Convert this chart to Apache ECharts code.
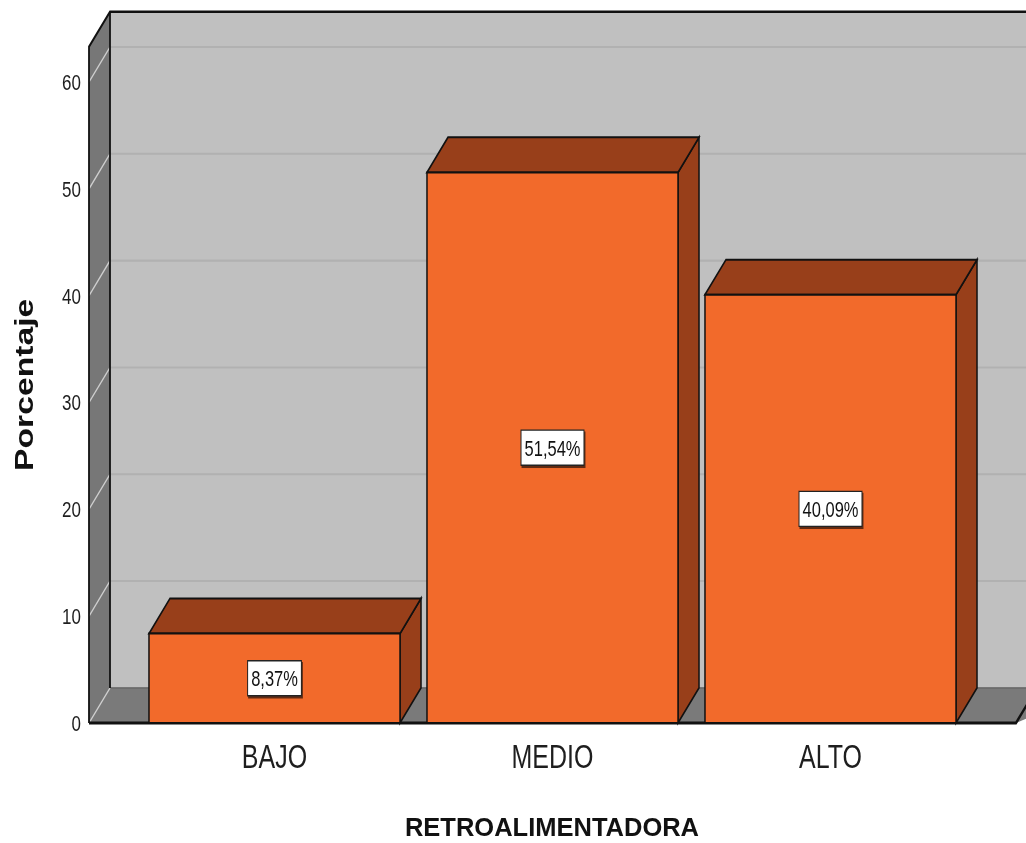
<!DOCTYPE html>
<html lang="es">
<head>
<meta charset="UTF-8">
<title>Retroalimentadora</title>
<script src="https://cdn.jsdelivr.net/npm/echarts@6/dist/echarts.min.js"></script>
<style>
  html, body { margin: 0; background: #fff; width: 1026px; height: 843px; overflow: hidden; }
  /* the source picture is stretched vertically: draw squashed, scale back up */
  #chart { width: 1026px; height: 625px; transform: scaleY(1.3488); transform-origin: 0 0; }
</style>
</head>
<body>
<div id="chart"></div>
<script>
  var categories = ['BAJO', 'MEDIO', 'ALTO'];
  var percentages = [8.37, 51.54, 40.09];
  var yTicks = [0, 10, 20, 30, 40, 50, 60];

  var STRETCH = 1.3488;
  var DX = 21, DY = -26;   // depth of the 3D box
  var PAD = 46.5;          // floor beyond the outer bars
  var EDGE = '#111';
  var FONT = "'Liberation Sans', Arial, sans-serif";

  function fmt(v) { return v.toFixed(2).replace('.', ',') + '%'; }

  var chart = echarts.init(document.getElementById('chart'), null, { renderer: 'svg' });

  // back wall, left wall and floor
  function renderRoom(params, api) {
    var cs = params.coordSys;
    var L = cs.x - PAD, R = cs.x + cs.width + PAD;
    var T = cs.y, B = cs.y + cs.height;
    var farR = R + DX + 60;
    var kids = [];
    kids.push({ type: 'rect', shape: { x: L + DX, y: T + DY, width: farR - L - DX, height: B - T },
      style: { fill: '#c0c0c0' } });
    yTicks.forEach(function (t) {
      if (t === 0) return;
      var y = api.coord([0, t])[1];
      kids.push({ type: 'line', shape: { x1: L + DX, y1: y + DY, x2: farR, y2: y + DY },
        style: { stroke: '#b1b1b1', lineWidth: 1.5 } });
    });
    kids.push({ type: 'polygon', shape: { points: [[L, T], [L + DX, T + DY], [L + DX, B + DY], [L, B]] },
      style: { fill: '#777777' } });
    kids.push({ type: 'polygon', shape: { points: [[L, B], [L + DX, B + DY], [farR, B + DY], [R, B]] },
      style: { fill: '#7a7a7a' } });
    kids.push({ type: 'line', shape: { x1: L + DX, y1: B + DY, x2: farR, y2: B + DY },
      style: { stroke: '#5e5e5e', lineWidth: 1 } });
    yTicks.forEach(function (t) {
      var y = api.coord([0, t])[1];
      kids.push({ type: 'line', shape: { x1: L, y1: y, x2: L + DX, y2: y + DY },
        style: { stroke: '#cfcfcf', lineWidth: 1.2 } });
    });
    kids.push({ type: 'polyline', shape: { points: [[L, B], [L, T], [L + DX, T + DY], [farR, T + DY]] },
      style: { stroke: EDGE, lineWidth: 1.8, fill: null } });
    kids.push({ type: 'line', shape: { x1: L + DX, y1: T + DY, x2: L + DX, y2: B + DY },
      style: { stroke: EDGE, lineWidth: 1.8 } });
    kids.push({ type: 'polyline', shape: { points: [[L, B], [R, B], [R + DX, B + DY]] },
      style: { stroke: EDGE, lineWidth: 2.2, fill: null } });
    return { type: 'group', children: kids };
  }

  function renderBar(params, api) {
    var idx = api.value(0);
    var top = api.coord([idx, api.value(1)]);
    var base = api.coord([idx, 0]);
    var w = api.size([1, 0])[0] * 0.903;
    var x0 = top[0] - w / 2, x1 = top[0] + w / 2;
    var y0 = top[1], y1 = base[1];
    var dark = '#983f1a';
    return {
      type: 'group',
      children: [
        { type: 'polygon', shape: { points: [[x1, y0], [x1 + DX, y0 + DY], [x1 + DX, y1 + DY], [x1, y1]] },
          style: { fill: dark, stroke: EDGE, lineWidth: 1.5 } },
        { type: 'polygon', shape: { points: [[x0, y0], [x0 + DX, y0 + DY], [x1 + DX, y0 + DY], [x1, y0]] },
          style: { fill: dark, stroke: EDGE, lineWidth: 1.5 } },
        { type: 'rect', shape: { x: x0, y: y0, width: w, height: y1 - y0 },
          style: { fill: '#f26a2b', stroke: EDGE, lineWidth: 1.5 } },
        { type: 'text', x: top[0], y: (y0 + y1) / 2,
          style: {
            text: fmt(api.value(1)), align: 'center', verticalAlign: 'middle',
            textAlign: 'center', textVerticalAlign: 'middle',
            fontSize: 16.5, fontFamily: FONT, fill: '#111',
            backgroundColor: '#fff', borderColor: '#222', borderWidth: 1, padding: [4, 3],
            shadowColor: 'rgba(0,0,0,0.6)', shadowOffsetX: 1, shadowOffsetY: 1.5, shadowBlur: 0
          } }
      ]
    };
  }

  var option = {
    animation: false,
    grid: { left: 135.5, right: 56.5, top: 34.7, bottom: 89 },
    xAxis: {
      type: 'category',
      data: categories,
      axisLine: { show: false },
      axisTick: { show: false },
      axisLabel: { margin: 12, fontSize: 25, lineHeight: 25, color: '#1e1e1e', fontFamily: FONT }
    },
    yAxis: {
      type: 'value',
      min: 0,
      max: 63.3,
      interval: 10,
      name: 'Porcentaje',
      nameLocation: 'middle',
      nameRotate: 90,
      nameGap: 99,
      nameTextStyle: { fontSize: 25, lineHeight: 25, fontWeight: 'bold', color: '#111', fontFamily: FONT },
      axisLine: { show: false },
      axisTick: { show: false },
      splitLine: { show: false },
      axisLabel: {
        margin: 54.5, fontSize: 17, lineHeight: 17, color: '#1e1e1e', fontFamily: FONT, padding: [5, 0, 0, 0],
        formatter: function (v) { return yTicks.indexOf(v) >= 0 ? String(v) : ''; }
      }
    },
    graphic: [{
      type: 'text',
      x: 552, y: 827.5 / STRETCH,
      scaleY: 1 / STRETCH,
      style: {
        text: 'RETROALIMENTADORA', fontSize: 25.5, fontWeight: 'bold', fontFamily: FONT, fill: '#111',
        align: 'center', verticalAlign: 'middle', textAlign: 'center', textVerticalAlign: 'middle'
      }
    }],
    series: [
      { type: 'custom', renderItem: renderRoom, data: [[0, 0]], silent: true, z: 1 },
      {
        type: 'custom',
        renderItem: renderBar,
        encode: { x: 0, y: 1 },
        data: percentages.map(function (v, i) { return [i, v]; }),
        z: 2
      }
    ]
  };

  chart.setOption(option);
</script>
</body>
</html>
